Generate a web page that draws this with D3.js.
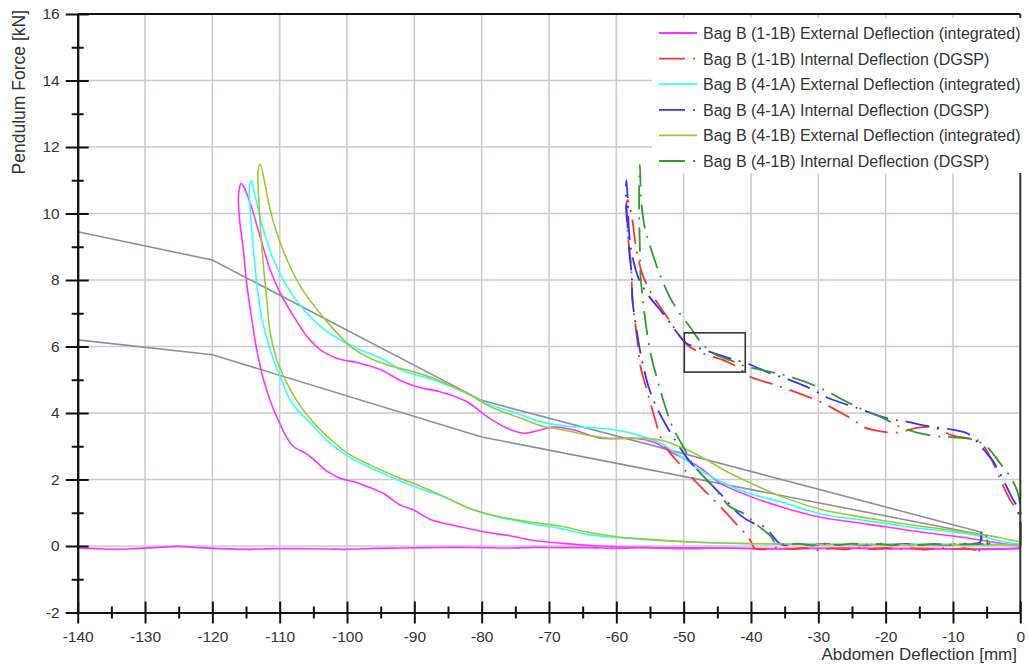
<!DOCTYPE html>
<html>
<head>
<meta charset="utf-8">
<script src="https://cdn.jsdelivr.net/npm/d3@7"></script>
<style>
  body { margin: 0; background: #fff; }
  svg { display: block; font-family: "Liberation Sans", Arial, Helvetica, sans-serif; }
</style>
</head>
<body>
<svg id="chart" width="1029" height="666"></svg>
<script>
// ---- Axis ticks ----
const xMajorTicks = d3.range(-140, 1, 10);
const xMinorTicks = d3.range(-135, 0, 10);
const yMajorTicks = d3.range(-2, 17, 2);
const yMinorTicks = d3.range(-1, 16, 2);

// ---- Legend labels ----
const seriesNames = [
  "Bag B (1-1B) External Deflection (integrated)",
  "Bag B (1-1B) Internal Deflection (DGSP)",
  "Bag B (4-1A) External Deflection (integrated)",
  "Bag B (4-1A) Internal Deflection (DGSP)",
  "Bag B (4-1B) External Deflection (integrated)",
  "Bag B (4-1B) Internal Deflection (DGSP)"
];

// ---- Corridor boundaries [deflection mm, force kN] ----
const corridorUpper = [[-140, 9.45], [-120, 8.6], [-80, 4.38], [-5.5, 0.4]];
const corridorLower = [[-140, 6.2], [-120, 5.75], [-80, 3.28], [-5.5, 0.33]];

// ---- Bag B (1-1B) external deflection, loading + unloading ----
const ext11B = [
  [0, 0.0], [-3, 0.08], [-6, 0.18], [-10, 0.3], [-15, 0.43], [-20, 0.58], [-25, 0.72],
  [-30, 0.88], [-35.6, 1.18], [-40.6, 1.53], [-44.6, 1.89], [-47.1, 2.29], [-49.5, 2.59],
  [-52, 2.84], [-54.4, 3.12], [-57.4, 3.24], [-62.4, 3.24], [-66.3, 3.49], [-69.3, 3.58],
  [-71.3, 3.49], [-73.7, 3.39], [-76.2, 3.54], [-79.2, 3.89], [-82.2, 4.34], [-86.2, 4.64],
  [-89.1, 4.76], [-92, 4.97], [-94.9, 5.29], [-97.9, 5.49], [-101.4, 5.64], [-103.9, 5.89],
  [-105.9, 6.29], [-107.9, 6.9], [-109.9, 7.6], [-111.4, 8.3], [-112.9, 9.3], [-114.2, 10.2],
  [-115.2, 10.75], [-115.7, 10.9], [-116.1, 10.6], [-116.0, 9.9], [-115.4, 8.9], [-114.9, 7.9],
  [-114.2, 6.9], [-113.4, 5.89], [-112.4, 5.0], [-110.9, 4.1], [-110, 3.7], [-109.2, 3.35],
  [-108, 3.0], [-106, 2.77], [-104.5, 2.52], [-103, 2.25], [-101, 2.04], [-99, 1.93],
  [-97.5, 1.83], [-94.6, 1.58], [-92.1, 1.23], [-90.1, 1.08], [-87.6, 0.8], [-83.7, 0.6],
  [-79.7, 0.43], [-75, 0.28], [-72.7, 0.18], [-68, 0.08], [-62.4, 0.0], [-55, -0.05],
  [-45, -0.06], [-35, -0.08], [-25, -0.07], [-15, -0.08], [-5, -0.1], [0, -0.08]
];
// drift of the integrated deflection after contact ends
const ext11BBase = [
  [-140, -0.06], [-137, -0.08], [-134, -0.1], [-131, -0.07], [-128, -0.04], [-125, -0.01],
  [-122, -0.05], [-119, -0.08], [-115, -0.1], [-111, -0.08], [-107, -0.08], [-103, -0.09],
  [-100, -0.1], [-96, -0.07], [-92, -0.06], [-88, -0.05], [-84, -0.04], [-80, -0.05],
  [-76, -0.06], [-72, -0.04], [-68, -0.05], [-64, -0.05], [-60, -0.07], [-56, -0.05],
  [-50, -0.08], [-44, -0.06], [-38, -0.09], [-32, -0.07], [-26, -0.06], [-20, -0.08],
  [-14, -0.07], [-8, -0.09], [-3, -0.08], [0, -0.06]
];

// ---- Bag B (1-1B) internal deflection (DGSP) ----
const int11B = [
  [0, 0], [0, 0.7], [-0.5, 1.08], [-1.5, 1.38], [-2.8, 1.93], [-4.5, 2.69], [-6, 3.14],
  [-7.5, 3.24], [-9.9, 3.31], [-11.9, 3.49], [-12.9, 3.57], [-15.4, 3.55], [-18.4, 3.41],
  [-21.9, 3.49], [-23.4, 3.59], [-24.4, 3.74], [-27.8, 4.14], [-30.2, 4.38], [-34.2, 4.69],
  [-37.1, 4.89], [-40.1, 5.09], [-42.1, 5.39], [-44.1, 5.59], [-47.1, 5.79], [-49.1, 5.99],
  [-50.5, 6.29], [-52.5, 6.9], [-54.5, 7.5], [-56, 8.1], [-57, 8.9], [-57.7, 9.9],
  [-58.3, 10.4], [-58.5, 10.3], [-58.3, 9.4], [-57.8, 8.4], [-57.6, 7.4], [-57, 6.39],
  [-56.4, 5.39], [-55.6, 4.79], [-54.5, 3.99], [-53, 3.09], [-50.5, 2.44], [-48, 1.89],
  [-45.5, 1.38], [-43.6, 0.98], [-41.6, 0.53], [-40.5, 0.3], [-39.8, 0.05], [-39.5, -0.07],
  [-38, -0.1], [-36, -0.05], [-34, -0.09], [-32, -0.06], [-30, -0.12], [-28, -0.07],
  [-26, -0.1], [-24, -0.05], [-22, -0.09], [-20, -0.06], [-18, -0.1], [-16, -0.07],
  [-14, -0.11], [-12, -0.06], [-10, -0.09], [-8, -0.07], [-6.5, -0.15], [-6.2, -0.25],
  [-6, 0.02], [-5.8, -0.1]
];

// ---- Bag B (4-1A) external deflection ----
const ext41A = [
  [0, 0.05], [-3, 0.15], [-6, 0.3], [-10, 0.42], [-15, 0.53], [-20, 0.68], [-25, 0.82],
  [-30, 0.98], [-35.6, 1.33], [-40.6, 1.6], [-44.6, 1.95], [-47.6, 2.29], [-50.5, 2.7],
  [-53.5, 3.1], [-57, 3.35], [-60.4, 3.5], [-63, 3.55], [-67.3, 3.6], [-71.3, 3.74],
  [-74.8, 3.99], [-78.7, 4.24], [-82.2, 4.59], [-87.1, 4.99], [-91.8, 5.28], [-94.9, 5.64],
  [-97.9, 5.89], [-101.4, 6.25], [-103.9, 6.6], [-106.4, 7.1], [-108.9, 7.8], [-110.9, 8.6],
  [-112.4, 9.5], [-113.4, 10.3], [-114.0, 10.85], [-114.2, 10.99], [-114.5, 10.8],
  [-114.3, 9.9], [-113.9, 8.9], [-113.4, 7.9], [-112.7, 6.9], [-111.4, 5.89], [-109.9, 5.09],
  [-108.2, 4.3], [-105.2, 3.65], [-102.8, 3.14], [-100, 2.72], [-97, 2.4], [-94.6, 2.18],
  [-92.4, 1.98], [-89.1, 1.72], [-85.7, 1.48], [-81.7, 1.13], [-77.8, 0.88], [-72.8, 0.68],
  [-68.4, 0.53], [-64.3, 0.35], [-60, 0.26], [-52.5, 0.16], [-44.6, 0.09], [-35.6, 0.06],
  [-25, 0.05], [-15, 0.05], [-5, 0.04], [0, 0.03]
];

// ---- Bag B (4-1A) internal deflection (DGSP) ----
const int41A = [
  [0, 0], [0, 0.68], [-0.5, 1.18], [-1.3, 1.48], [-2.8, 2.1], [-4, 2.54], [-5, 2.79],
  [-6, 3.04], [-7.9, 3.39], [-9.9, 3.49], [-13.9, 3.61], [-16.9, 3.74], [-19.8, 3.84],
  [-24.8, 4.19], [-28.5, 4.45], [-31.2, 4.74], [-34.2, 4.99], [-37.1, 5.19], [-40.6, 5.49],
  [-43.1, 5.64], [-45.1, 5.77], [-47.6, 5.94], [-49.6, 6.1], [-51.1, 6.45], [-53.1, 7.0],
  [-55.1, 7.5], [-56.6, 8.0], [-57.6, 8.7], [-58.1, 9.4], [-58.3, 10.4], [-58.5, 11.0],
  [-58.6, 10.5], [-58.4, 9.9], [-58.1, 8.9], [-57.7, 8.1], [-57.6, 7.4], [-57, 6.5],
  [-56.3, 5.69], [-55.3, 4.85], [-54.3, 4.3], [-52.8, 3.7], [-51, 3.1], [-49.5, 2.65],
  [-47, 2.08], [-44.6, 1.58], [-41.6, 0.93], [-39.6, 0.68], [-38.1, 0.58], [-36.9, 0.33],
  [-35.8, 0.08], [-35, 0.03], [-33, 0.06], [-31, 0.02], [-29, 0.07], [-27, 0.03],
  [-25, 0.06], [-23, 0.02], [-21, 0.07], [-19, 0.04], [-17, 0.06], [-15, 0.02],
  [-13, 0.05], [-11, 0.03], [-9, 0.06], [-7, 0.08], [-6, 0.1], [-5.8, 0.4], [-5.6, 0.05],
  [-5, 0.08]
];

// ---- Bag B (4-1B) external deflection ----
const ext41B = [
  [0, 0.12], [-3, 0.25], [-6, 0.35], [-10, 0.47], [-15, 0.6], [-20, 0.75], [-25, 0.92],
  [-30, 1.12], [-35.6, 1.5], [-39.6, 1.85], [-43.6, 2.24], [-47, 2.64], [-50, 2.94],
  [-53.5, 3.19], [-57, 3.24], [-61, 3.24], [-64.4, 3.34], [-68.4, 3.51], [-70.8, 3.59],
  [-74.8, 3.89], [-78.7, 4.19], [-82.2, 4.59], [-87.1, 5.04], [-90.5, 5.26], [-93.1, 5.39],
  [-96.5, 5.64], [-99.4, 5.99], [-101.9, 6.5], [-104.4, 7.1], [-106.9, 7.8], [-108.9, 8.6],
  [-110.4, 9.4], [-111.4, 10.1], [-112.2, 10.9], [-112.9, 11.49], [-113.2, 11.3],
  [-113.1, 10.4], [-112.8, 9.4], [-112.4, 8.4], [-111.9, 7.4], [-111.4, 6.4], [-110.4, 5.59],
  [-108.9, 4.89], [-107.2, 4.29], [-104.9, 3.69], [-102.5, 3.22], [-100, 2.8], [-96.6, 2.44],
  [-92.4, 2.06], [-89.1, 1.8], [-85.7, 1.5], [-81.7, 1.12], [-77.8, 0.9], [-72.8, 0.72],
  [-68.4, 0.6], [-64.3, 0.42], [-60, 0.28], [-55, 0.2], [-48.5, 0.12], [-40, 0.07],
  [-30, 0.05], [-20, 0.04], [-10, 0.04], [0, 0.04]
];

// ---- Bag B (4-1B) internal deflection (DGSP) ----
const int41B = [
  [0, 0], [0, 1.18], [-0.5, 1.68], [-1.5, 2.08], [-3, 2.49], [-5, 2.99], [-6.9, 3.19],
  [-9.9, 3.27], [-12.9, 3.31], [-17.4, 3.54], [-20.3, 3.84], [-23.8, 4.14], [-26.3, 4.39],
  [-29.8, 4.76], [-34.2, 5.09], [-37.1, 5.24], [-40.6, 5.39], [-43.1, 5.59], [-45.6, 5.79],
  [-47.1, 6.05], [-48.1, 6.3], [-49.1, 6.6], [-50.6, 7.0], [-52.1, 7.5], [-53.6, 8.2],
  [-54.8, 8.9], [-55.8, 9.6], [-56.3, 10.4], [-56.5, 11.46], [-56.6, 10.9], [-56.6, 9.9],
  [-56.5, 8.9], [-56.4, 8.1], [-56, 7.3], [-55.5, 6.5], [-54.8, 5.69], [-53.9, 5.0],
  [-52.9, 4.3], [-51.7, 3.6], [-50.1, 3.0], [-48.6, 2.45], [-45.6, 1.78], [-43.1, 1.18],
  [-41.1, 0.98], [-39.1, 0.63], [-37.1, 0.3], [-36.4, 0.1], [-35, 0.04], [-33, 0.07],
  [-31, 0.02], [-29, 0.06], [-27, 0.03], [-25, 0.07], [-23, 0.04], [-21, 0.06],
  [-19, 0.02], [-17, 0.07], [-15, 0.03], [-13, 0.06], [-11, 0.04], [-9, 0.05], [-7, 0.06],
  [-5.2, 0.1], [-5.0, 0.38], [-4.8, 0.05], [-4.5, 0.1]
];

// ---- Highlighted detail window [x0, x1] and [y0, y1] ----
const detailBoxX = [-49.9, -40.85];
const detailBoxY = [5.23, 6.41];

// ---- Series styling ----
const seriesColors = ["#ff33ff", "#ff3333", "#33ffff", "#3333ff", "#99cc33", "#339933"];
const seriesData = [[ext11B, ext11BBase], [int11B], [ext41A], [int41A], [ext41B], [int41B]];
const seriesDashed = [false, true, false, true, false, true];
const dashPattern = "24,8,2,8";

// ---- Layout ----
const svg = d3.select("#chart");
const x = d3.scaleLinear().domain([-140, 0]).range([77.7, 1020.3]);
const y = d3.scaleLinear().domain([-2, 16]).range([612.5, 14]);
const textColor = "#333";

// grid
const grid = svg.append("g");
grid.selectAll("line.vx").data(xMajorTicks.filter(d => d > -140 && d < 0)).join("line")
  .attr("x1", d => x(d)).attr("x2", d => x(d))
  .attr("y1", y(16)).attr("y2", y(-2))
  .attr("stroke", "#cacad6").attr("stroke-width", 1.6);
grid.selectAll("line.hy").data(yMajorTicks.filter(d => d > -2 && d < 16)).join("line")
  .attr("x1", x(-140)).attr("x2", x(0))
  .attr("y1", d => y(d)).attr("y2", d => y(d))
  .attr("stroke", "#cacad6").attr("stroke-width", 1.6);

// corridor lines
const straight = d3.line().x(d => x(d[0])).y(d => y(d[1]));
[corridorUpper, corridorLower].forEach(c => {
  svg.append("path").attr("d", straight(c))
    .attr("fill", "none").attr("stroke", "#8e8ea0").attr("stroke-width", 1.6);
});

// measurement curves
const smooth = d3.line().x(d => x(d[0])).y(d => y(d[1]))
  .curve(d3.curveCatmullRom.alpha(0.5));
seriesData.forEach((parts, i) => {
  parts.forEach(pts => {
    svg.append("path").attr("d", smooth(pts))
      .attr("fill", "none")
      .attr("stroke", seriesColors[i])
      .attr("stroke-width", seriesDashed[i] ? 1.8 : 1.6)
      .attr("stroke-linejoin", "round")
      .attr("stroke-dasharray", seriesDashed[i] ? dashPattern : null);
  });
});

// detail window
svg.append("rect")
  .attr("x", x(detailBoxX[0])).attr("y", y(detailBoxY[1]))
  .attr("width", x(detailBoxX[1]) - x(detailBoxX[0]))
  .attr("height", y(detailBoxY[0]) - y(detailBoxY[1]))
  .attr("fill", "none").attr("stroke", "#333").attr("stroke-width", 1.6);

// frame: top and right
svg.append("line").attr("x1", x(-140)).attr("x2", x(0)).attr("y1", y(16)).attr("y2", y(16))
  .attr("stroke", "#111").attr("stroke-width", 2);
svg.append("line").attr("x1", x(0)).attr("x2", x(0)).attr("y1", y(16)).attr("y2", y(-2))
  .attr("stroke", "#333").attr("stroke-width", 2);

// legend
const legend = svg.append("g");
legend.append("rect").attr("x", 652).attr("y", 18).attr("width", 377).attr("height", 155)
  .attr("fill", "#fff");
seriesNames.forEach((name, i) => {
  const ly = 33 + i * 25.6;
  legend.append("line").attr("x1", 659).attr("x2", 697).attr("y1", ly).attr("y2", ly)
    .attr("stroke", seriesColors[i]).attr("stroke-width", 1.8)
    .attr("stroke-dasharray", seriesDashed[i] ? "26,8,2,8" : null);
  legend.append("text").attr("x", 703).attr("y", ly + 6)
    .attr("font-size", 16).attr("fill", textColor).text(name);
});

// left axis
const fmt = d => String(d);
const yAxis = svg.append("g").attr("transform", `translate(${x(-140)},0)`)
  .call(d3.axisLeft(y).tickValues(yMajorTicks).tickFormat(fmt).tickSize(12).tickSizeOuter(0).tickPadding(6));
yAxis.selectAll(".tick").append("line").attr("x1", 0).attr("x2", 11);
const yAxisMinor = svg.append("g").attr("transform", `translate(${x(-140)},0)`)
  .call(d3.axisLeft(y).tickValues(yMinorTicks).tickFormat("").tickSize(6).tickSizeOuter(0));
yAxisMinor.selectAll(".tick").append("line").attr("x1", 0).attr("x2", 6);

// bottom axis
const xAxis = svg.append("g").attr("transform", `translate(0,${y(-2)})`)
  .call(d3.axisBottom(x).tickValues(xMajorTicks).tickFormat(fmt).tickSize(11).tickSizeOuter(0).tickPadding(7));
xAxis.selectAll(".tick").append("line").attr("y1", 0).attr("y2", -11);
const xAxisMinor = svg.append("g").attr("transform", `translate(0,${y(-2)})`)
  .call(d3.axisBottom(x).tickValues(xMinorTicks).tickFormat("").tickSize(6).tickSizeOuter(0));
xAxisMinor.selectAll(".tick").append("line").attr("y1", 0).attr("y2", -6);

[yAxis, yAxisMinor, xAxis, xAxisMinor].forEach(g => {
  g.selectAll("path.domain").attr("stroke", "#111").attr("stroke-width", 2);
  g.selectAll(".tick line").attr("stroke", "#111").attr("stroke-width", 2);
  g.selectAll(".tick text").attr("fill", textColor).attr("font-size", 15.5)
    .attr("font-family", "'Liberation Sans', Arial, sans-serif");
});

// axis titles
svg.append("text")
  .attr("transform", "translate(25,10) rotate(-90)")
  .attr("text-anchor", "end").attr("font-size", 17.5).attr("fill", textColor)
  .text("Pendulum Force [kN]");
svg.append("text")
  .attr("x", 1017).attr("y", 660)
  .attr("text-anchor", "end").attr("font-size", 17).attr("fill", textColor)
  .text("Abdomen Deflection [mm]");
</script>
</body>
</html>
